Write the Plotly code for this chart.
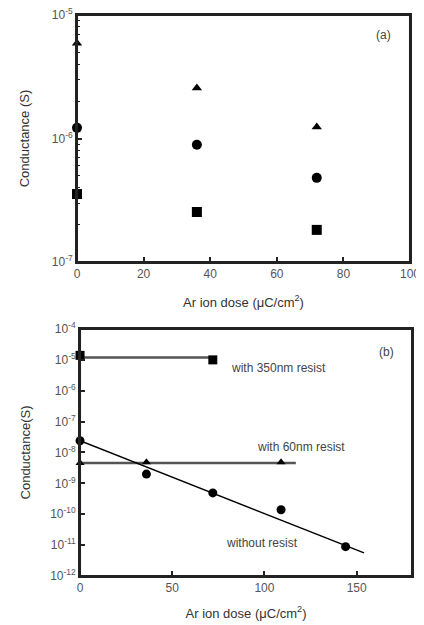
import plotly.graph_objects as go
from plotly.subplots import make_subplots

# ---- Panel (a) data ----
dose_a = [0, 36, 72]
tri_a = [5.9e-6, 2.57e-6, 1.24e-6]
circ_a = [1.22e-6, 8.9e-7, 4.8e-7]
sq_a = [3.55e-7, 2.54e-7, 1.82e-7]

# ---- Panel (b) data ----
dose_350 = [0, 72]
g_350 = [1.4e-5, 1.0e-5]
line_350_x = [0, 72]
line_350_y = [1.2e-5, 1.2e-5]

dose_60 = [0, 36, 109]
g_60 = [4.6e-9, 4.8e-9, 4.8e-9]
line_60_x = [0, 117]
line_60_y = [4.6e-9, 4.6e-9]

dose_none = [0, 36, 72, 109, 144]
g_none = [2.4e-8, 2.0e-9, 4.9e-10, 1.4e-10, 8.9e-12]
fit_x = [0, 154]
fit_y = [2.4e-8, 5.6e-12]

ticks_a_vals = [1e-7, 1e-6, 1e-5]
ticks_a_text = ["10<sup>-7</sup>", "10<sup>-6</sup>", "10<sup>-5</sup>"]
minor_a_vals = [m * 10.0 ** e for e in (-7, -6) for m in range(2, 10)]
ticks_b_vals = [1e-12, 1e-11, 1e-10, 1e-9, 1e-8, 1e-7, 1e-6, 1e-5, 1e-4]
ticks_b_text = ["10<sup>-12</sup>", "10<sup>-11</sup>", "10<sup>-10</sup>", "10<sup>-9</sup>",
                "10<sup>-8</sup>", "10<sup>-7</sup>", "10<sup>-6</sup>", "10<sup>-5</sup>",
                "10<sup>-4</sup>"]

fig = make_subplots(rows=2, cols=1, vertical_spacing=0.12)

FONT = "Liberation Sans, Arial, sans-serif"

def mk(x, y, sym, size, row):
    fig.add_trace(go.Scatter(x=x, y=y, mode="markers",
                             marker=dict(symbol=sym, size=size, color="black"),
                             showlegend=False, cliponaxis=False), row=row, col=1)

def ln(x, y, color, width, row):
    fig.add_trace(go.Scatter(x=x, y=y, mode="lines",
                             line=dict(color=color, width=width),
                             showlegend=False, cliponaxis=False), row=row, col=1)

mk(dose_a, tri_a, "triangle-up", 9, 1)
mk(dose_a, circ_a, "circle", 10, 1)
mk(dose_a, sq_a, "square", 10, 1)

ln(line_350_x, line_350_y, "#555", 2.5, 2)
ln(line_60_x, line_60_y, "#555", 2.5, 2)
ln(fit_x, fit_y, "black", 1.5, 2)
mk(dose_350, g_350, "square", 9, 2)
mk(dose_60, g_60, "triangle-up", 8, 2)
mk(dose_none, g_none, "circle", 9, 2)

axis_common = dict(showline=True, linecolor="#222", linewidth=2, mirror=True,
                   ticks="inside", tickcolor="#222", tickwidth=1.5, ticklen=5,
                   showgrid=False, zeroline=False, automargin=False,
                   ticklabeloverflow="allow",
                   tickfont=dict(family=FONT, size=12, color="#555"))
title_font = dict(family=FONT, size=13, color="#333")

fig.update_xaxes(range=[0, 100], tickvals=[0, 20, 40, 60, 80, 100], row=1, col=1,
                 title=dict(text="Ar ion dose (\u03bcC/cm<sup>2</sup>)", standoff=17, font=title_font),
                 domain=[0.003, 0.994], **axis_common)
fig.update_yaxes(type="log", range=[-7, -5], tickvals=ticks_a_vals, ticktext=ticks_a_text,
                 row=1, col=1,
                 minor=dict(ticks="inside", ticklen=3, tickcolor="#222", tickwidth=1,
                            tickvals=minor_a_vals, showgrid=False),
                 title=dict(text="Conductance (S)", standoff=19, font=title_font),
                 domain=[0.5597, 1.0], **axis_common)

fig.update_xaxes(range=[0, 180], tickvals=[0, 50, 100, 150], row=2, col=1,
                 title=dict(text="Ar ion dose (\u03bcC/cm<sup>2</sup>)", standoff=14, font=title_font),
                 domain=[0.012, 1.0], **axis_common)
fig.update_yaxes(type="log", range=[-12, -4], tickvals=ticks_b_vals, ticktext=ticks_b_text,
                 row=2, col=1,
                 title=dict(text="Conductance(S)", standoff=17, font=title_font),
                 domain=[0.0, 0.4403], **axis_common)

# plot frames drawn above everything
for xr, yr in (("x", "y"), ("x2", "y2")):
    fig.add_shape(type="rect", xref=xr + " domain", yref=yr + " domain",
                  x0=0, x1=1, y0=0, y1=1, line=dict(color="#222", width=2),
                  fillcolor="rgba(0,0,0,0)", layer="above")

ann_font = dict(family=FONT, size=12, color="#444")
fig.add_annotation(text="(a)", xref="x", yref="y", x=92, y=-5.16, showarrow=False,
                   font=dict(family=FONT, size=12, color="#444"))
fig.add_annotation(text="(b)", xref="x2", yref="y2", x=166, y=-4.74, showarrow=False,
                   font=dict(family=FONT, size=12, color="#444"))
fig.add_annotation(text="with 350nm resist", xref="x2", yref="y2", x=81, y=-5.26,
                   xanchor="left", showarrow=False, font=ann_font)
fig.add_annotation(text="with 60nm resist", xref="x2", yref="y2", x=95, y=-7.82,
                   xanchor="left", showarrow=False, font=ann_font)
fig.add_annotation(text="without resist", xref="x2", yref="y2", x=78, y=-10.92,
                   xanchor="left", showarrow=False, font=ann_font)

# the page body keeps an 8px default margin, so the figure is 8px smaller each way
fig.update_layout(width=416, height=617, plot_bgcolor="white", paper_bgcolor="white",
                  margin=dict(l=68, r=12, t=7, b=49), showlegend=False)

fig.write_html("out.html")
